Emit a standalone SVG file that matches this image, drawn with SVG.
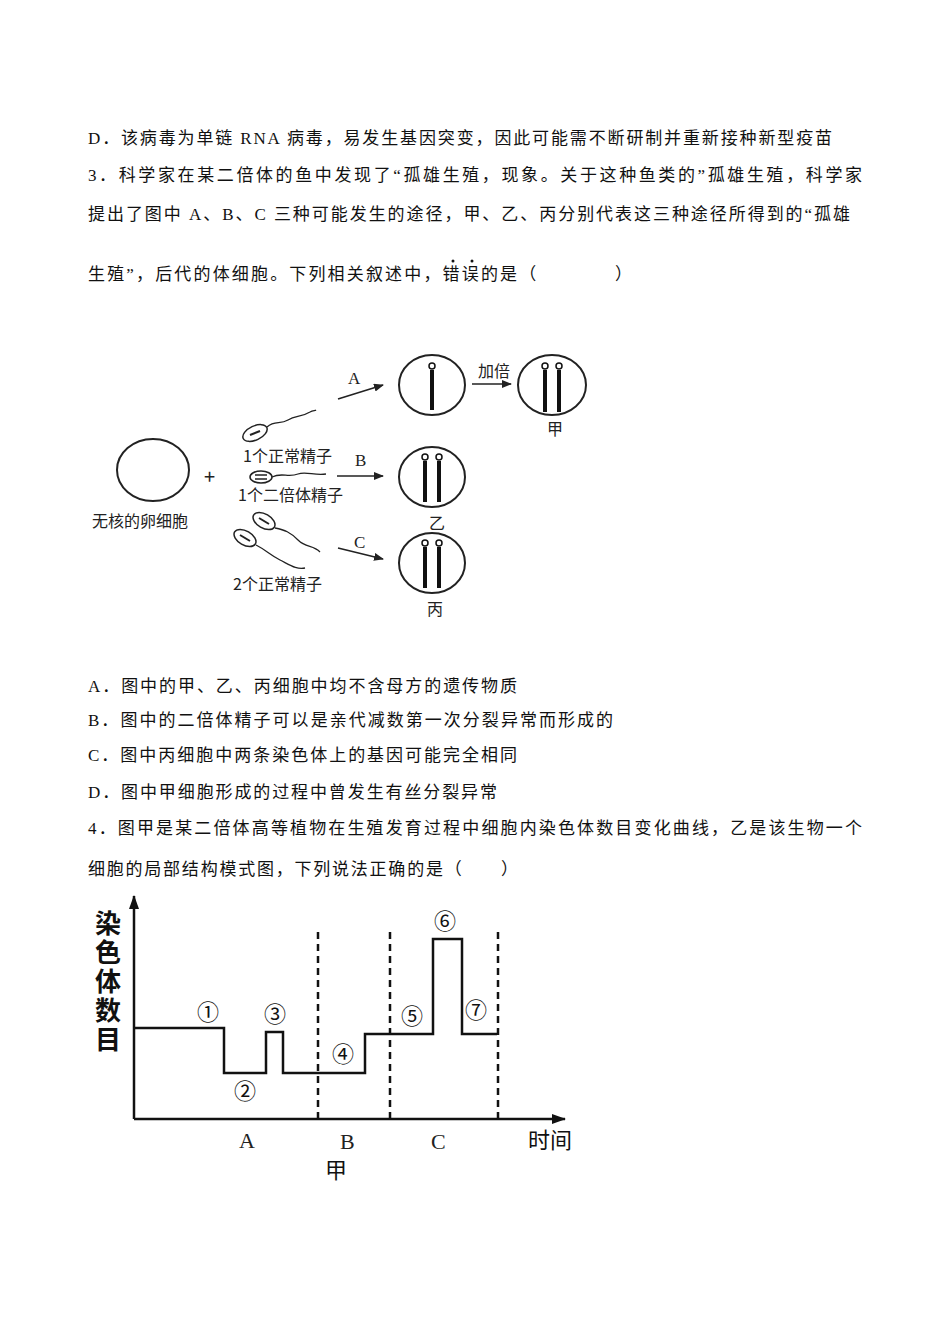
<svg xmlns="http://www.w3.org/2000/svg" width="950" height="1344" viewBox="0 0 950 1344">
<style>
.t{font-family:"Liberation Serif","Noto Sans CJK SC",serif;font-size:17px;fill:#111}
.s{font-family:"Noto Sans CJK SC",sans-serif;font-size:16px;fill:#222}
.l{font-family:"Liberation Serif","Noto Sans CJK SC",serif;font-size:17px;fill:#222}
.c{fill:none;stroke:#222;stroke-width:2}
.k{stroke:#111;stroke-width:4}
.a{stroke:#222;stroke-width:1.6;fill:none;marker-end:url(#ah)}
.g{font-family:"Noto Sans CJK SC",sans-serif;font-size:22px;fill:#111}
.y{font-family:"Noto Sans CJK SC",sans-serif;font-size:26px;font-weight:bold;fill:#111;writing-mode:vertical-rl;letter-spacing:3px}
</style>
<defs>
<marker id="ah" markerWidth="10" markerHeight="8" refX="9" refY="4" orient="auto" markerUnits="userSpaceOnUse"><path d="M0,0 L10,4 L0,8 Z" fill="#222"/></marker>
<marker id="ah2" markerWidth="14" markerHeight="10" refX="13" refY="5" orient="auto" markerUnits="userSpaceOnUse"><path d="M0,0 L14,5 L0,10 Z" fill="#111"/></marker>
</defs>
<rect width="950" height="1344" fill="#fff"/>
<g id="text">
<text class="t" x="88" y="144" textLength="744" lengthAdjust="spacing">D．该病毒为单链 RNA 病毒，易发生基因突变，因此可能需不断研制并重新接种新型疫苗</text>
<text class="t" x="88" y="181" textLength="774" lengthAdjust="spacing">3．科学家在某二倍体的鱼中发现了“孤雄生殖，现象。关于这种鱼类的”孤雄生殖，科学家</text>
<text class="t" x="88" y="220" textLength="762" lengthAdjust="spacing">提出了图中 A、B、C 三种可能发生的途径，甲、乙、丙分别代表这三种途径所得到的“孤雄</text>
<text class="t" x="88" y="280" textLength="544" lengthAdjust="spacing">生殖”，后代的体细胞。下列相关叙述中，错误的是（　　　　）</text>
<circle cx="453" cy="261" r="1.5" fill="#111"/><circle cx="472" cy="261" r="1.5" fill="#111"/>
<text class="t" x="88" y="692" textLength="429" lengthAdjust="spacing">A．图中的甲、乙、丙细胞中均不含母方的遗传物质</text>
<text class="t" x="88" y="726" textLength="525" lengthAdjust="spacing">B．图中的二倍体精子可以是亲代减数第一次分裂异常而形成的</text>
<text class="t" x="88" y="761" textLength="429" lengthAdjust="spacing">C．图中丙细胞中两条染色体上的基因可能完全相同</text>
<text class="t" x="88" y="798" textLength="409" lengthAdjust="spacing">D．图中甲细胞形成的过程中曾发生有丝分裂异常</text>
<text class="t" x="88" y="834" textLength="774" lengthAdjust="spacing">4．图甲是某二倍体高等植物在生殖发育过程中细胞内染色体数目变化曲线，乙是该生物一个</text>
<text class="t" x="88" y="875" textLength="430" lengthAdjust="spacing">细胞的局部结构模式图，下列说法正确的是（　　）</text>
</g>
<g id="egg"><ellipse class="c" cx="153" cy="470" rx="36" ry="31"/><text class="s" x="92" y="527">无核的卵细胞</text></g>
<text class="s" x="204" y="484" style="font-size:20px">+</text>
<g id="sperm1">
<ellipse class="c" cx="255" cy="433" rx="13" ry="7" transform="rotate(-25 255 433)" style="stroke-width:1.5"/>
<line x1="250" y1="435" x2="260" y2="431" stroke="#222" stroke-width="2"/>
<path class="c" style="stroke-width:1.3" d="M267,427 C275,420 280,425 288,420 C296,415 300,418 310,412 C313,410 315,411 316,410"/>
<text class="s" x="243" y="462">1个正常精子</text></g>
<g id="sperm2">
<ellipse class="c" cx="261" cy="477" rx="11" ry="6" style="stroke-width:1.5"/>
<line x1="255" y1="475" x2="267" y2="475" stroke="#222" stroke-width="1.5"/><line x1="255" y1="479" x2="267" y2="479" stroke="#222" stroke-width="1.5"/>
<path class="c" style="stroke-width:1.3" d="M272,477 C282,472 288,478 298,474 C306,471 315,476 326,474"/>
<text class="s" x="238" y="501">1个二倍体精子</text></g>
<g id="sperm3">
<ellipse class="c" cx="264" cy="521" rx="12" ry="7" transform="rotate(30 264 521)" style="stroke-width:1.5"/>
<line x1="259" y1="518" x2="269" y2="524" stroke="#222" stroke-width="2"/>
<ellipse class="c" cx="245" cy="538" rx="12" ry="7" transform="rotate(30 245 538)" style="stroke-width:1.5"/>
<line x1="240" y1="535" x2="250" y2="541" stroke="#222" stroke-width="2"/>
<path class="c" style="stroke-width:1.3" d="M275,528 C285,530 290,532 298,540 C306,548 313,545 320,552"/>
<path class="c" style="stroke-width:1.3" d="M256,545 C266,550 270,555 280,560 C290,565 297,570 305,568"/>
<text class="s" x="233" y="590">2个正常精子</text></g>
<g id="connectors">
<line class="a" x1="338" y1="399" x2="383" y2="385"/><text class="l" x="348" y="384" font-size="15">A</text>
<line class="a" x1="472" y1="384" x2="511" y2="384"/><text class="s" x="478" y="377">加倍</text>
<line class="a" x1="337" y1="476" x2="383" y2="476"/><text class="l" x="355" y="466" font-size="15">B</text>
<line class="a" x1="338" y1="548" x2="383" y2="559"/><text class="l" x="354" y="548" font-size="15">C</text>
</g>
<g id="cellA"><ellipse class="c" cx="432" cy="385" rx="33" ry="30"/><line class="k" x1="432" y1="370" x2="432" y2="410"/><circle cx="432" cy="366" r="3" fill="#fff" stroke="#111" stroke-width="1.5"/></g>
<g id="cellJia"><ellipse class="c" cx="552" cy="385" rx="34" ry="30"/>
<line class="k" x1="545" y1="370" x2="545" y2="412"/><circle cx="545" cy="366" r="3" fill="#fff" stroke="#111" stroke-width="1.5"/>
<line class="k" x1="559" y1="370" x2="559" y2="412"/><circle cx="559" cy="366" r="3" fill="#fff" stroke="#111" stroke-width="1.5"/>
<text class="s" x="547" y="435">甲</text></g>
<g id="cellYi"><ellipse class="c" cx="432" cy="477" rx="33" ry="30"/>
<line class="k" x1="425" y1="461" x2="425" y2="502"/><circle cx="425" cy="457" r="3" fill="#fff" stroke="#111" stroke-width="1.5"/>
<line class="k" x1="439" y1="461" x2="439" y2="502"/><circle cx="439" cy="457" r="3" fill="#fff" stroke="#111" stroke-width="1.5"/>
<text class="s" x="429" y="529">乙</text></g>
<g id="cellBing"><ellipse class="c" cx="432" cy="563" rx="33" ry="30"/>
<line class="k" x1="425" y1="547" x2="425" y2="588"/><circle cx="425" cy="543" r="3" fill="#fff" stroke="#111" stroke-width="1.5"/>
<line class="k" x1="439" y1="547" x2="439" y2="588"/><circle cx="439" cy="543" r="3" fill="#fff" stroke="#111" stroke-width="1.5"/>
<text class="s" x="427" y="615">丙</text></g>
<g id="graph">
<line x1="134" y1="1119" x2="134" y2="896" stroke="#111" stroke-width="2.5" marker-end="url(#ah2)"/>
<line x1="134" y1="1119" x2="565" y2="1119" stroke="#111" stroke-width="2.5" marker-end="url(#ah2)"/>
<g stroke="#111" stroke-width="2.5" stroke-dasharray="7,5"><line x1="318" y1="932" x2="318" y2="1119"/><line x1="390" y1="932" x2="390" y2="1119"/><line x1="498" y1="932" x2="498" y2="1119"/></g>
<polyline fill="none" stroke="#111" stroke-width="2.5" points="134,1028 224,1028 224,1073 266,1073 266,1032 283,1032 283,1073 365,1073 365,1034 433,1034 433,939 462,939 462,1034 497,1034"/>
<text class="y" x="108" y="910">染色体数目</text>
<g class="g"><text x="197" y="1020">①</text><text x="234" y="1099">②</text><text x="264" y="1022">③</text><text x="332" y="1062">④</text><text x="401" y="1024">⑤</text><text x="434" y="929">⑥</text><text x="465" y="1018">⑦</text></g>
<g class="l" style="font-size:22px"><text x="239" y="1148">A</text><text x="340" y="1149">B</text><text x="431" y="1149">C</text></g>
<text class="g" x="528" y="1148">时间</text>
<text class="g" x="325" y="1178">甲</text>
</g>
</svg>
